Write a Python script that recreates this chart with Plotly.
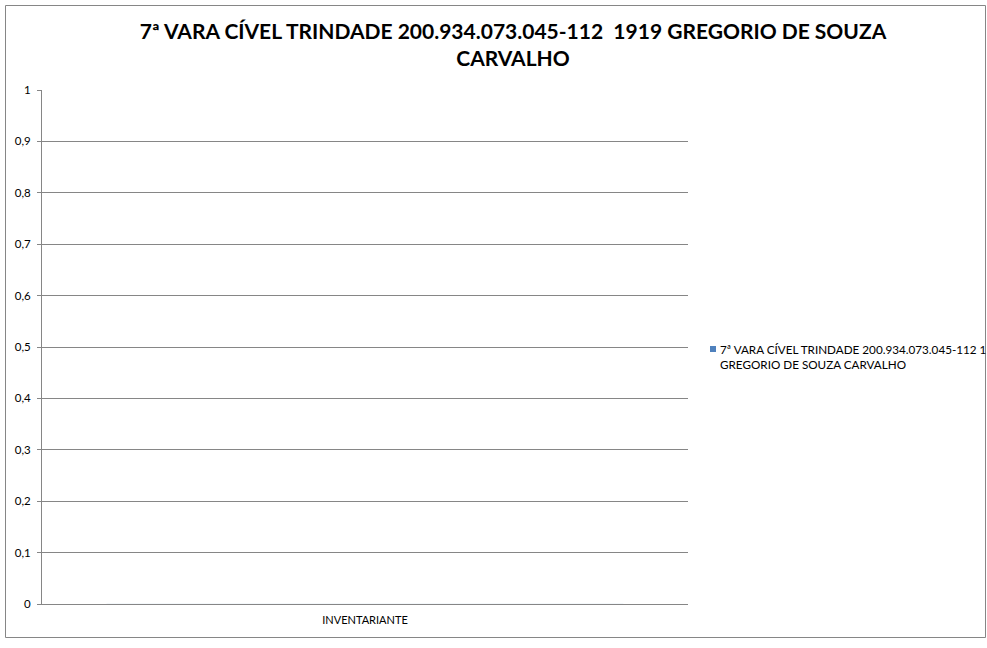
import plotly.graph_objects as go

# chart data
categories = ['INVENTARIANTE']
values = [0]
series_name = '7ª VARA CÍVEL TRINDADE 200.934.073.045-112 1<br>GREGORIO DE SOUZA CARVALHO'
title_text = '7ª VARA CÍVEL TRINDADE 200.934.073.045-112  1919 GREGORIO DE SOUZA<br>CARVALHO'
y_ticks = [0, 0.1, 0.2, 0.3, 0.4, 0.5, 0.6, 0.7, 0.8, 0.9, 1]

W, H = 987, 648
L, R, T, B = 42, 688, 90, 604
BAR_COLOR = '#4f81bd'


def px_x(p):
    return (p - L) / (R - L)


def px_y(p):
    return (B - p) / (B - T)


fig = go.Figure()

fig.add_trace(go.Bar(
    x=categories,
    y=values,
    name=series_name,
    marker_color=BAR_COLOR,
    showlegend=False
))

# legend drawn by hand so it doesn't push the plot margins
fig.add_shape(type='rect', xref='paper', yref='paper',
              x0=px_x(710), x1=px_x(716), y0=px_y(352), y1=px_y(346),
              line=dict(width=0), fillcolor=BAR_COLOR)
fig.add_annotation(text=series_name, xref='paper', yref='paper',
                   x=px_x(718), y=px_y(357), xanchor='left', yanchor='middle',
                   align='left', showarrow=False, font=dict(size=11.7))

fig.update_layout(
    width=W, height=H,
    margin=dict(l=L, r=W - R, t=T, b=H - B),
    paper_bgcolor='white',
    plot_bgcolor='white',
    separators=', ',
    font=dict(family='Lato, Liberation Sans, sans-serif', size=11, color='#000000'),
    title=dict(
        text='<b>' + title_text + '</b>',
        x=513 / W, xref='container', xanchor='center',
        y=1 - 39 / H, yref='container', yanchor='middle',
        font=dict(size=21, color='#000000')
    ),
    yaxis=dict(
        range=[0, 1],
        tickvals=y_ticks,
        showgrid=True, gridcolor='#868686', gridwidth=1,
        showline=True, linecolor='#868686', linewidth=1,
        ticks='outside', ticklen=4, tickcolor='#868686',
        zeroline=False,
        tickfont=dict(size=11.5),
        ticklabelstandoff=4
    ),
    xaxis=dict(
        showline=True, linecolor='#868686', linewidth=1,
        showgrid=False, ticks='', tickfont=dict(size=11),
        ticklabelstandoff=6
    ),
)

fig.add_shape(type='rect', xref='paper', yref='paper',
              x0=px_x(5.5), x1=px_x(985.5), y0=px_y(637.5), y1=px_y(5.5),
              line=dict(color='#868686', width=1), fillcolor='rgba(0,0,0,0)')

fig.write_html('out.html', config={'displayModeBar': False},
               post_script="document.body.style.margin='0';")
